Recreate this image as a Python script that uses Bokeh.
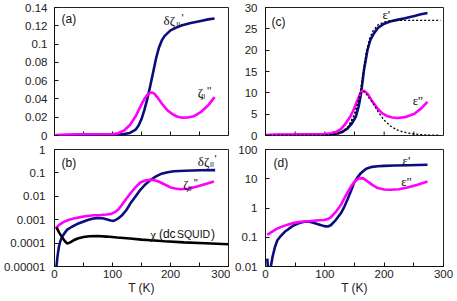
import math
from bokeh.plotting import figure
from bokeh.models import FixedTicker, Label, Range1d
from bokeh.layouts import gridplot
from bokeh.embed import file_html
from bokeh.resources import INLINE

# ---------------- data ----------------
# x ticks (T, K)
x_ticks = [0, 100, 200, 300]
x_labels = ["0", "100", "200", "300"]
x_minor = [50, 150, 250]
x_all_ticks = [0, 50, 100, 150, 200, 250, 300]

# panel (a): linear zeta
a_y_ticks = [0, 0.02, 0.04, 0.06, 0.08, 0.1, 0.12, 0.14]
a_y_labels = ["0", "0.02", "0.04", "0.06", "0.08", "0.1", "0.12", "0.14"]
a_T_re = [2, 20, 40, 60, 80, 100, 110, 120, 130, 140, 145, 150, 155, 160, 165, 170,
          175, 180, 185, 190, 200, 210, 220, 235, 250, 265, 276]
a_re = [0.0002, 0.0003, 0.0006, 0.001, 0.0012, 0.001, 0.0011, 0.0016, 0.0028, 0.0065,
        0.011, 0.018, 0.028, 0.040, 0.054, 0.069, 0.084, 0.096, 0.104, 0.109, 0.115,
        0.118, 0.1205, 0.123, 0.125, 0.127, 0.128]
a_T_im = [2, 20, 40, 60, 80, 100, 110, 120, 130, 140, 150, 155, 160, 165, 168, 172,
          177, 185, 194, 203, 211, 220, 230, 240, 252, 265, 276]
a_im = [0.0005, 0.001, 0.0012, 0.0013, 0.0014, 0.0017, 0.0025, 0.0055, 0.0115, 0.021,
        0.034, 0.040, 0.0445, 0.0468, 0.047, 0.0458, 0.042, 0.035, 0.028, 0.0235,
        0.0208, 0.0195, 0.0197, 0.021, 0.0255, 0.033, 0.042]

# panel (b): log zeta and dc SQUID chi
b_y_ticks = [1e-5, 1e-4, 1e-3, 1e-2, 1e-1, 1.0]
b_y_labels = ["0.00001", "0.0001", "0.001", "0.01", "0.1", "1"]
b_T_re = [3.4, 5, 7.5, 10, 13, 17, 22, 30, 39, 56, 65, 74, 83, 91, 97, 102, 108, 117,
          124, 131, 140, 148, 157, 166, 175, 183, 195, 206, 225, 252, 277]
b_re = [1.0e-5, 2.5e-5, 6.8e-5, 1.2e-4, 1.8e-4, 2.6e-4, 3.8e-4, 5.0e-4, 6.5e-4, 9.5e-4,
        1.1e-3, 1.2e-3, 1.15e-3, 1.02e-3, 9.3e-4, 8.9e-4, 1.05e-3, 1.6e-3, 2.6e-3,
        5.0e-3, 1.0e-2, 1.9e-2, 3.3e-2, 5.1e-2, 7.1e-2, 8.9e-2, 0.107, 0.117, 0.123,
        0.129, 0.132]
b_T_im = [2, 8, 16, 25, 33, 45, 56, 68, 79, 90, 97, 104, 110, 114, 120, 131, 140, 148,
          157, 166, 172, 178, 183, 190, 200, 208, 217, 230, 246, 262, 275]
b_im = [4.2e-4, 6.0e-4, 8.1e-4, 1.0e-3, 1.12e-3, 1.29e-3, 1.45e-3, 1.55e-3, 1.58e-3,
        1.66e-3, 1.74e-3, 2.1e-3, 2.75e-3, 3.6e-3, 5.8e-3, 1.35e-2, 2.5e-2, 3.9e-2,
        4.8e-2, 5.1e-2, 4.9e-2, 4.4e-2, 3.9e-2, 3.2e-2, 2.4e-2, 2.15e-2, 2.0e-2, 2.1e-2,
        2.6e-2, 3.4e-2, 4.3e-2]
b_T_chi = [3.5, 8, 13, 18, 22, 27, 33, 40, 50, 60, 74, 90, 108, 130, 150, 166, 190, 223,
           260, 300]
b_chi = [4.7e-4, 2.8e-4, 1.8e-4, 1.2e-4, 9.5e-5, 1.07e-4, 1.32e-4, 1.58e-4, 1.82e-4,
         1.95e-4, 2.0e-4, 1.9e-4, 1.74e-4, 1.58e-4, 1.41e-4, 1.32e-4, 1.2e-4, 1.07e-4,
         9.8e-5, 8.9e-5]

# panel (c): linear epsilon with fits
c_y_ticks = [0, 5, 10, 15, 20, 25, 30]
c_y_labels = ["0", "5", "10", "15", "20", "25", "30"]
c_T_re = [1, 20, 40, 60, 80, 100, 110, 121, 130, 138, 145, 152, 157, 161, 166, 172, 177,
          183, 190, 200, 210, 222, 235, 251, 262, 273]
c_re = [0.05, 0.08, 0.1, 0.12, 0.12, 0.15, 0.25, 0.45, 0.9, 1.6, 2.7, 4.3, 6.8, 9.8,
        15.4, 20.1, 22.5, 24.0, 25.3, 26.2, 26.7, 27.1, 27.5, 28.0, 28.4, 28.7]
c_T_im = [1, 20, 40, 60, 80, 100, 110, 120, 127, 135, 144, 150, 155, 160, 163, 167, 172,
          180, 189, 197, 206, 214, 222, 235, 251, 262, 273]
c_im = [0.1, 0.2, 0.25, 0.3, 0.3, 0.35, 0.5, 0.9, 1.5, 2.8, 4.7, 6.5, 8.3, 9.9, 10.5,
        10.4, 9.8, 8.0, 6.3, 5.2, 4.5, 4.2, 4.1, 4.3, 5.1, 6.3, 7.9]
c_T_fit_re = [0, 100, 120, 130, 140, 150, 155, 160, 165, 170, 175, 180, 190, 200, 210,
              220, 295]
c_fit_re = [0, 0.05, 0.3, 0.8, 2.0, 4.8, 7.2, 10.5, 15.0, 19.5, 22.5, 24.3, 26.0, 26.6,
            26.9, 27.0, 27.0]
c_T_fit_im = [0, 100, 120, 130, 140, 150, 155, 160, 163, 166, 170, 175, 180, 190, 200,
              210, 220, 230, 245, 260, 280, 295]
c_fit_im = [0, 0.05, 0.3, 0.9, 2.2, 5.0, 7.2, 9.5, 10.3, 10.3, 9.7, 8.7, 7.8, 5.5, 3.6,
            2.3, 1.4, 0.9, 0.45, 0.2, 0.08, 0.05]

# panel (d): log epsilon
d_y_ticks = [0.01, 0.1, 1, 10, 100]
d_y_labels = ["0.01", "0.1", "1", "10", "100"]
d_T_re = [3, 5, 7, 9, 12, 16, 20, 26, 32, 40, 48, 56, 65, 74, 82, 90, 99, 105, 110, 118,
          127, 133, 138, 144, 149, 155, 161, 167, 172, 180, 189, 200, 217, 240, 273]
d_re = [0.0186, 0.005, 0.004, 0.01, 0.022, 0.047, 0.079, 0.112, 0.151, 0.2, 0.257,
        0.302, 0.339, 0.339, 0.309, 0.275, 0.24, 0.234, 0.257, 0.38, 0.66, 1.12, 1.9,
        3.8, 7.1, 11.2, 15.8, 20.0, 23.0, 25.5, 26.8, 27.6, 28.3, 29.0, 30.0]
d_T_im = [3, 10, 20, 30, 40, 48, 60, 76, 90, 99, 105, 110, 118, 127, 135, 144, 151, 158,
          165, 172, 180, 189, 200, 211, 225, 239, 255, 273]
d_im = [0.12, 0.15, 0.2, 0.24, 0.28, 0.31, 0.34, 0.36, 0.38, 0.39, 0.42, 0.48, 0.72,
        1.26, 2.6, 5.4, 8.3, 10.5, 10.3, 8.1, 6.2, 4.8, 4.3, 4.2, 4.4, 5.0, 6.1, 8.1]

NAVY = "#0c0c7e"
MAG = "#ff00ff"
SANS = "Liberation Sans"
SERIF = "Liberation Serif"
INK = "#111111"


def make_fig(width, height, yr, y_type, mbl, mbr, mbt, mbb, y_ticks, y_labels,
             bottom_row, y_standoff):
    p = figure(width=width, height=height, x_range=Range1d(0, 300),
               y_range=Range1d(*yr), y_axis_type=y_type, output_backend="svg",
               toolbar_location=None, min_border_left=mbl, min_border_right=mbr,
               min_border_top=mbt, min_border_bottom=mbb)
    p.grid.visible = False
    p.outline_line_color = "#222222"
    p.outline_line_width = 1
    for ax in (p.xaxis[0], p.yaxis[0]):
        ax.axis_line_color = INK
        ax.major_tick_in = 4
        ax.major_tick_out = 0
        ax.minor_tick_in = 4
        ax.minor_tick_out = 0
        ax.minor_tick_line_color = INK
        ax.major_tick_line_color = INK
        ax.major_label_text_font = SANS
        ax.major_label_text_font_size = "11.5px"
        ax.major_label_text_color = "#222222"
    if bottom_row:
        p.xaxis.ticker = FixedTicker(ticks=x_ticks, minor_ticks=x_minor)
        p.xaxis.major_label_overrides = dict(zip(x_ticks, x_labels))
        p.xaxis.major_label_standoff = 3
        p.xaxis.axis_label = "T (K)"
        p.xaxis.axis_label_text_font = SANS
        p.xaxis.axis_label_text_font_size = "12px"
        p.xaxis.axis_label_text_font_style = "normal"
        p.xaxis.axis_label_text_color = "#222222"
        p.xaxis.axis_label_standoff = 0
    else:
        # x axis of the top panels: ticks only, no labels
        p.xaxis.visible = False
        p.scatter(x_all_ticks, [yr[0]] * len(x_all_ticks), marker="dash",
                  angle=math.pi / 2, size=8, line_color=INK, line_width=1)
    p.yaxis.ticker = FixedTicker(ticks=y_ticks)
    p.yaxis.major_label_overrides = dict(zip(y_ticks, y_labels))
    p.yaxis.major_label_standoff = y_standoff
    return p


def lab(p, x, y, text, size="12px", font=SANS):
    p.add_layout(Label(x=x, y=y, text=text, text_font=font, text_font_size=size,
                       text_baseline="middle", text_align="left",
                       text_color="#111111"))


# geometry (page has no margin)
LW = 230   # left figure width
RW = 227   # right figure width
TH = 142   # top row height
BH = 157   # bottom row height

pa = make_fig(LW, TH, (0, 0.14), "linear", 54, 2, 7, 7, a_y_ticks, a_y_labels, False, 7)
pb = make_fig(LW, BH, (1e-5, 1), "log", 54, 2, 7, 33, b_y_ticks, b_y_labels, True, 9)
pc = make_fig(RW, TH, (0, 30), "linear", 35, 14, 7, 7, c_y_ticks, c_y_labels, False, 8)
pd = make_fig(RW, BH, (0.01, 100), "log", 35, 14, 7, 33, d_y_ticks, d_y_labels, True, 8)

# (a)
pa.line(a_T_re, a_re, line_color=NAVY, line_width=2.6)
pa.line(a_T_im, a_im, line_color=MAG, line_width=2.6)
lab(pa, 12, 0.1269, "(a)")
lab(pa, 188, 0.1258, "δζ", "13px", SERIF)
lab(pa, 210, 0.1214, "II", "7px", SANS)
lab(pa, 219, 0.128, "'", "11px", SANS)
lab(pa, 247, 0.047, "ζ", "13px", SERIF)
lab(pa, 253, 0.0427, "II", "7px", SANS)
lab(pa, 263, 0.0492, "''", "11px", SANS)

# (b)
pb.line(b_T_re, b_re, line_color=NAVY, line_width=2.6)
pb.line(b_T_im, b_im, line_color=MAG, line_width=2.6)
pb.line(b_T_chi, b_chi, line_color="black", line_width=2.6)
lab(pb, 12, 0.275, "(b)")
lab(pb, 247, 0.319, "δζ", "13px", SERIF)
lab(pb, 268, 0.226, "II", "7px", SANS)
lab(pb, 276, 0.41, "'", "11px", SANS)
lab(pb, 222, 0.031, "ζ", "13px", SERIF)
lab(pb, 230, 0.0219, "II", "7px", SANS)
lab(pb, 240, 0.038, "''", "11px", SANS)
lab(pb, 165, 2.4e-4, "χ", "13px", SERIF)
lab(pb, 180, 2.4e-4, "(dc", "12px", SANS)
lab(pb, 211, 2.4e-4, "SQUID", "10.5px", SANS)
lab(pb, 270, 2.4e-4, ")", "12px", SANS)

# (c)
pc.line(c_T_re, c_re, line_color=NAVY, line_width=2.6)
pc.line(c_T_im, c_im, line_color=MAG, line_width=2.6)
pc.line(c_T_fit_re, c_fit_re, line_color="black", line_width=1.3, line_dash="2 2")
pc.line(c_T_fit_im, c_fit_im, line_color="black", line_width=1.3, line_dash="2 2")
lab(pc, 10, 26.6, "(c)")
lab(pc, 197, 28.35, "ε'", "13px", SERIF)
lab(pc, 248, 8.15, "ε''", "13px", SERIF)

# (d)
pd.line(d_T_re, d_re, line_color=NAVY, line_width=2.6)
pd.line(d_T_im, d_im, line_color=MAG, line_width=2.6)
lab(pd, 13.5, 35.5, "(d)")
lab(pd, 231, 43.5, "ε'", "13px", SERIF)
lab(pd, 229, 7.9, "ε''", "13px", SERIF)

grid = gridplot([[pa, pc], [pb, pd]], toolbar_location=None)

open("out.html", "w").write(file_html(grid, INLINE))
